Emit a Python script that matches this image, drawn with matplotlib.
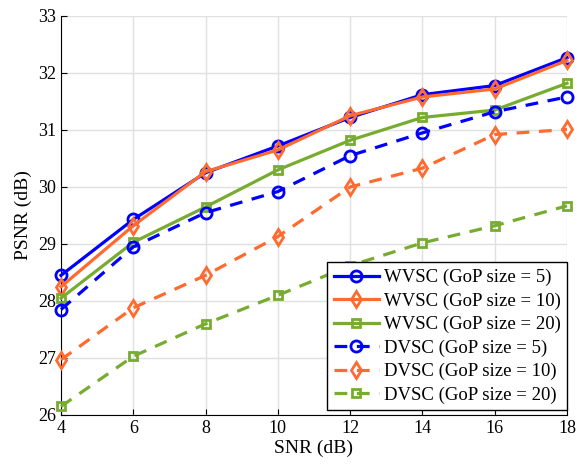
import numpy as np
import matplotlib.pyplot as plt

plt.rcParams['font.family'] = ['Liberation Serif', 'DejaVu Serif']
plt.rcParams['mathtext.fontset'] = 'stix'

snr = [4, 6, 8, 10, 12, 14, 16, 18]

wvsc_5 = [28.45, 29.43, 30.25, 30.72, 31.22, 31.62, 31.78, 32.27]
wvsc_10 = [28.25, 29.32, 30.27, 30.65, 31.25, 31.58, 31.72, 32.22]
wvsc_20 = [28.05, 29.03, 29.65, 30.30, 30.82, 31.22, 31.35, 31.82]
dvsc_5 = [27.85, 28.95, 29.55, 29.92, 30.55, 30.95, 31.32, 31.58]
dvsc_10 = [26.97, 27.88, 28.45, 29.13, 30.00, 30.33, 30.92, 31.01]
dvsc_20 = [26.15, 27.03, 27.60, 28.10, 28.62, 29.02, 29.32, 29.67]

blue = '#0000FF'
orange = '#FF6A2E'
green = '#77AC30'

fig = plt.figure(figsize=(5.77, 4.68), dpi=100)
ax = fig.add_axes([61/577, 1 - 415/468, (567-61)/577, (415-16)/468])

series = [
    (wvsc_5, blue, '-', 'o', 'WVSC (GoP size = 5)'),
    (wvsc_10, orange, '-', 'd', 'WVSC (GoP size = 10)'),
    (wvsc_20, green, '-', 's', 'WVSC (GoP size = 20)'),
    (dvsc_5, blue, '--', 'o', 'DVSC (GoP size = 5)'),
    (dvsc_10, orange, '--', 'd', 'DVSC (GoP size = 10)'),
    (dvsc_20, green, '--', 's', 'DVSC (GoP size = 20)'),
]
for vals, c, ls, mk, lab in series:
    ms = 6 if mk == 's' else 8
    ax.plot(snr, vals, color=c, linestyle=ls, marker=mk, markersize=ms,
            markerfacecolor='none', markeredgewidth=2, linewidth=2.3,
            label=lab, dashes=(4, 3) if ls == '--' else (None, None),
            clip_on=False, zorder=3)

ax.set_xlim(4, 18)
ax.set_ylim(26, 33)
ax.set_xticks(snr)
ax.set_yticks(range(26, 34))
ax.grid(True, color='#e0e0e0', linewidth=1)
ax.set_axisbelow(True)
ax.tick_params(direction='in', labelsize=13, length=4)
ax.spines['top'].set_visible(False)
ax.spines['right'].set_visible(False)
ax.set_xlabel('SNR (dB)', fontsize=14, labelpad=2)
ax.set_ylabel('PSNR (dB)', fontsize=14, labelpad=4)

leg = ax.legend(loc='lower right', fontsize=13.5, frameon=True, fancybox=False,
                edgecolor='black', framealpha=1, borderaxespad=0.0,
                handlelength=2.4, handletextpad=0.25, labelspacing=0.33,
                borderpad=0.35, bbox_to_anchor=(1.0, 0.012))
leg.get_frame().set_linewidth(1)
leg.set_zorder(5)

fig.savefig('out.png', dpi=100)
